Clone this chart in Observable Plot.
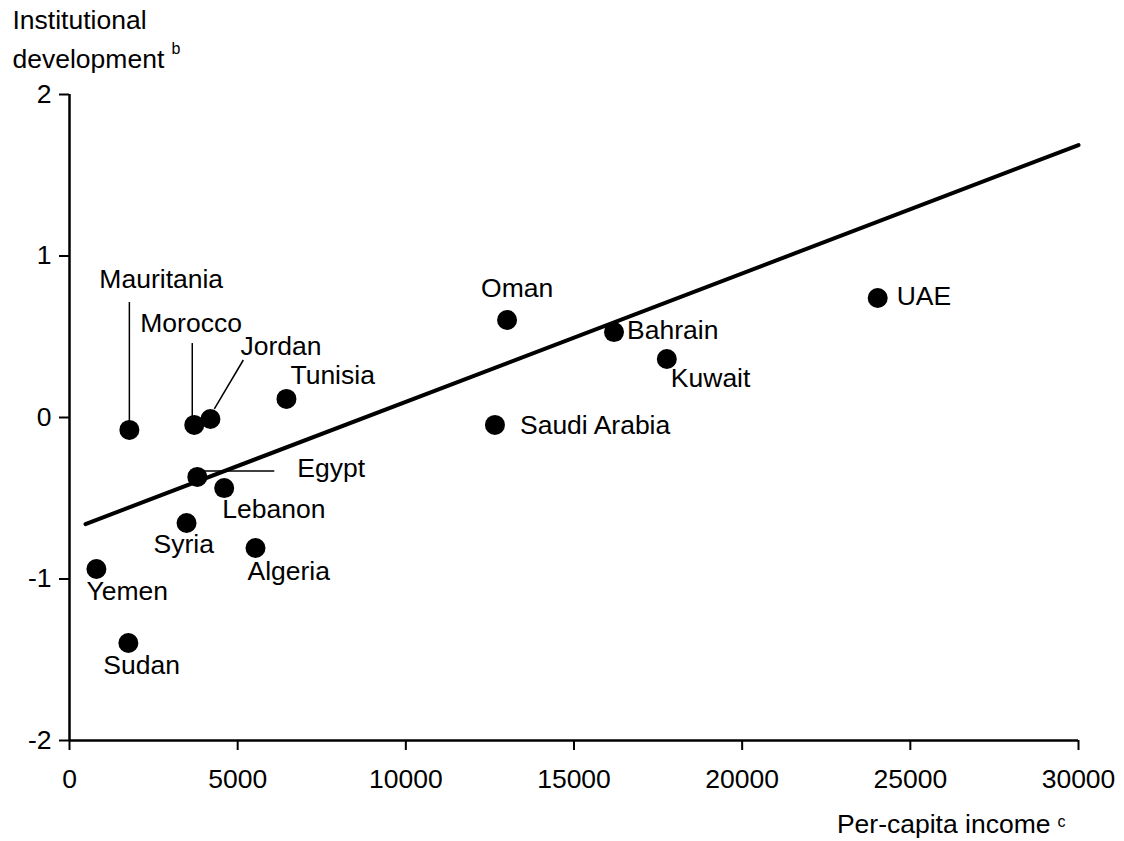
<!DOCTYPE html>
<html>
<head>
<meta charset="utf-8">
<script src="https://cdn.jsdelivr.net/npm/d3@7"></script>
<script src="https://cdn.jsdelivr.net/npm/@observablehq/plot@0.6"></script>
<style>
  html, body { margin: 0; padding: 0; background: #fff; }
  #chart { width: 1124px; height: 841px; }
</style>
</head>
<body>
<div id="chart"></div>
<script>
// ---- data ----
const countries = ["Mauritania", "Morocco", "Jordan", "Tunisia", "Egypt", "Lebanon", "Syria", "Algeria",
                   "Yemen", "Sudan", "Oman", "Saudi Arabia", "Bahrain", "Kuwait", "UAE"];
const income = [1780, 3710, 4190, 6450, 3800, 4600, 3480, 5530, 800, 1750, 13010, 12650, 16190, 17760, 24030];
const institutional = [-0.077, -0.046, -0.009, 0.115, -0.368, -0.437, -0.653, -0.808, -0.938, -1.396,
                       0.604, -0.046, 0.529, 0.362, 0.740];
const fitIncome = [475, 30000];
const fitInstitutional = [-0.66, 1.687];
const xTicks = [0, 5000, 10000, 15000, 20000, 25000, 30000];
const yTicks = [-2, -1, 0, 1, 2];
const yTitle = ["Institutional", "development"];
const yTitleNote = "b";
const xTitle = "Per-capita income";
const xTitleNote = "c";

// ---- layout (label offsets in px, leader lines in data units) ----
const labelOffset = {
  "Mauritania": [-30, -142], "Morocco": [-54, -93], "Jordan": [30, -64], "Tunisia": [4, -15],
  "Egypt": [100, 0], "Lebanon": [-2, 30], "Syria": [-33, 30], "Algeria": [-8, 32],
  "Yemen": [-10, 31], "Sudan": [-25, 31], "Oman": [-26, -23], "Saudi Arabia": [25, 9],
  "Bahrain": [13, 7], "Kuwait": [4, 28], "UAE": [19, 7]
};
const leaders = [
  {x1: 1780, y1: -0.077, x2: 1780, y2: 0.715},
  {x1: 3650, y1: -0.046, x2: 3650, y2: 0.461},
  {x1: 4307, y1: 0.053, x2: 5168, y2: 0.356},
  {x1: 3980, y1: -0.331, x2: 6089, y2: -0.331}
];

const points = countries.map((c, i) => ({country: c, income: income[i], inst: institutional[i]}));
const fit = fitIncome.map((x, i) => ({x, y: fitInstitutional[i]}));

const FONT = "Liberation Sans, Arial, Helvetica, sans-serif";
const FS = 26.5;

const labelMarks = points.map(p => Plot.text([p], {
  x: "income", y: "inst", text: "country",
  dx: labelOffset[p.country][0], dy: labelOffset[p.country][1],
  textAnchor: "start", lineAnchor: "bottom", fontSize: FS, fill: "black"
}));

const chart = Plot.plot({
  width: 1124, height: 841,
  marginLeft: 69, marginRight: 46, marginTop: 94, marginBottom: 101,
  style: {fontFamily: FONT, background: "white", color: "black"},
  x: {domain: [0, 30000], label: null},
  y: {domain: [-2, 2], label: null},
  marks: [
    Plot.axisX({ticks: xTicks, tickSize: 10, tickPadding: 19, strokeWidth: 2, fontSize: FS,
                tickFormat: d => String(d), label: null}),
    Plot.axisY({ticks: yTicks, tickSize: 10, tickPadding: 8, strokeWidth: 2, fontSize: FS,
                tickFormat: d => String(d), label: null}),
    Plot.ruleX([0], {strokeWidth: 2.5}),
    Plot.ruleY([-2], {strokeWidth: 2.5}),
    Plot.line(fit, {x: "x", y: "y", strokeWidth: 4, stroke: "black"}),
    Plot.link(leaders, {x1: "x1", y1: "y1", x2: "x2", y2: "y2", stroke: "black", strokeWidth: 1.5}),
    Plot.dot(points, {x: "income", y: "inst", r: 10, fill: "black", stroke: "none"}),
    ...labelMarks,
    // axis titles
    Plot.text([yTitle[0]], {frameAnchor: "top-left", dx: -57, dy: -66, text: d => d,
      textAnchor: "start", lineAnchor: "bottom", fontSize: FS}),
    Plot.text([yTitle[1]], {frameAnchor: "top-left", dx: -57, dy: -27, text: d => d,
      textAnchor: "start", lineAnchor: "bottom", fontSize: FS}),
    Plot.text([yTitleNote], {frameAnchor: "top-left", dx: 102, dy: -41, text: d => d,
      textAnchor: "start", lineAnchor: "bottom", fontSize: 16}),
    Plot.text([xTitle], {frameAnchor: "bottom-right", dx: -28, dy: 92, text: d => d,
      textAnchor: "end", lineAnchor: "bottom", fontSize: FS}),
    Plot.text([xTitleNote], {frameAnchor: "bottom-right", dx: -13, dy: 86, text: d => d,
      textAnchor: "end", lineAnchor: "bottom", fontSize: 16})
  ]
});
document.getElementById("chart").appendChild(chart);
</script>
</body>
</html>
